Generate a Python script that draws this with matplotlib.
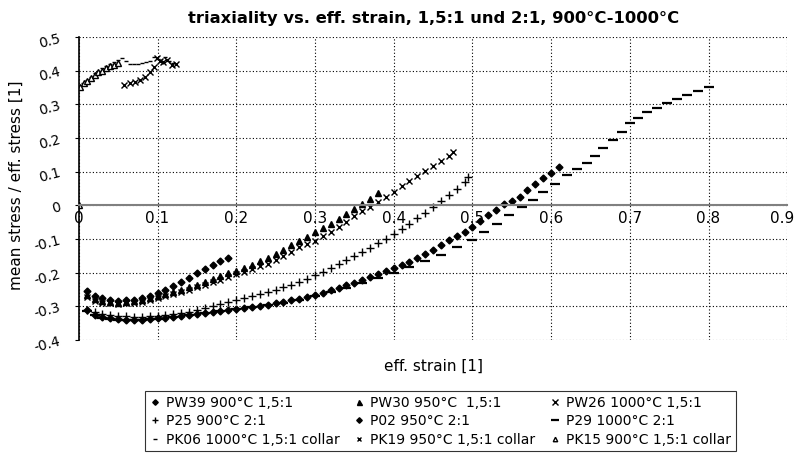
import matplotlib.pyplot as plt
import numpy as np

plt.rcParams['font.family'] = ['DejaVu Sans']
plt.rcParams['axes.unicode_minus'] = False

# --- Daten ---
pw39_x = [0.01, 0.02, 0.03, 0.04, 0.05, 0.06, 0.07, 0.08, 0.09, 0.10, 0.11, 0.12, 0.13, 0.14, 0.15, 0.16, 0.17, 0.18, 0.19]
pw39_y = [-0.255, -0.268, -0.276, -0.281, -0.283, -0.282, -0.280, -0.275, -0.268, -0.260, -0.250, -0.240, -0.228, -0.215, -0.202, -0.190, -0.178, -0.166, -0.155]

pw30_x = [0.01, 0.02, 0.03, 0.04, 0.05, 0.06, 0.07, 0.08, 0.09, 0.10, 0.11, 0.12, 0.13, 0.14, 0.15, 0.16, 0.17, 0.18, 0.19,
          0.20, 0.21, 0.22, 0.23, 0.24, 0.25, 0.26, 0.27, 0.28, 0.29, 0.30, 0.31, 0.32, 0.33, 0.34, 0.35, 0.36, 0.37, 0.38]
pw30_y = [-0.265, -0.278, -0.285, -0.288, -0.289, -0.288, -0.285, -0.281, -0.276, -0.270, -0.263, -0.257, -0.250, -0.243, -0.236, -0.228, -0.220, -0.211, -0.202,
          -0.195, -0.185, -0.176, -0.166, -0.155, -0.144, -0.132, -0.119, -0.106, -0.093, -0.080, -0.067, -0.055, -0.042, -0.027, -0.011, 0.004, 0.020, 0.036]

pw26_x = [0.01, 0.02, 0.03, 0.04, 0.05, 0.06, 0.07, 0.08, 0.09, 0.10, 0.11, 0.12, 0.13, 0.14, 0.15, 0.16, 0.17, 0.18, 0.19, 0.20, 0.21, 0.22, 0.23,
          0.24, 0.25, 0.26, 0.27, 0.28, 0.29, 0.30, 0.31, 0.32, 0.33, 0.34, 0.35, 0.36, 0.37, 0.38, 0.39, 0.40, 0.41, 0.42, 0.43, 0.44, 0.45, 0.46, 0.47, 0.475]
pw26_y = [-0.272, -0.283, -0.289, -0.291, -0.292, -0.291, -0.289, -0.286, -0.281, -0.275, -0.269, -0.263, -0.257, -0.250, -0.243, -0.236, -0.229, -0.221, -0.213, -0.205, -0.197, -0.189, -0.181,
          -0.173, -0.162, -0.150, -0.138, -0.125, -0.115, -0.105, -0.092, -0.078, -0.063, -0.048, -0.033, -0.018, -0.004, 0.011, 0.026, 0.041, 0.057, 0.072, 0.088, 0.103, 0.118, 0.133, 0.148, 0.158]

p25_x = [0.01, 0.02, 0.03, 0.04, 0.05, 0.06, 0.07, 0.08, 0.09, 0.10, 0.11, 0.12, 0.13, 0.14, 0.15, 0.16, 0.17, 0.18, 0.19, 0.20, 0.21, 0.22, 0.23, 0.24, 0.25,
         0.26, 0.27, 0.28, 0.29, 0.30, 0.31, 0.32, 0.33, 0.34, 0.35, 0.36, 0.37, 0.38, 0.39, 0.40, 0.41, 0.42, 0.43, 0.44, 0.45, 0.46, 0.47, 0.48, 0.49, 0.495]
p25_y = [-0.310, -0.318, -0.323, -0.326, -0.328, -0.330, -0.331, -0.331, -0.330, -0.329, -0.327, -0.324, -0.321, -0.317, -0.312, -0.306, -0.300, -0.294, -0.287, -0.280, -0.274, -0.268, -0.262, -0.256, -0.250,
         -0.244, -0.236, -0.228, -0.218, -0.208, -0.197, -0.186, -0.174, -0.162, -0.150, -0.138, -0.126, -0.113, -0.100, -0.086, -0.070, -0.054, -0.038, -0.022, -0.005, 0.013, 0.031, 0.050, 0.070, 0.085]

p02_x = [0.01, 0.02, 0.03, 0.04, 0.05, 0.06, 0.07, 0.08, 0.09, 0.10, 0.11, 0.12, 0.13, 0.14, 0.15, 0.16, 0.17, 0.18, 0.19, 0.20, 0.21, 0.22, 0.23, 0.24, 0.25, 0.26, 0.27, 0.28, 0.29, 0.30, 0.31,
         0.32, 0.33, 0.34, 0.35, 0.36, 0.37, 0.38, 0.39, 0.40, 0.41, 0.42, 0.43, 0.44, 0.45, 0.46, 0.47, 0.48, 0.49, 0.50, 0.51, 0.52, 0.53, 0.54, 0.55, 0.56, 0.57, 0.58, 0.59, 0.60, 0.61]
p02_y = [-0.312, -0.325, -0.332, -0.336, -0.338, -0.340, -0.340, -0.340, -0.338, -0.336, -0.334, -0.332, -0.329, -0.326, -0.323, -0.320, -0.317, -0.314, -0.311, -0.308, -0.305, -0.302, -0.299, -0.295, -0.291, -0.287, -0.282, -0.277, -0.271, -0.265, -0.259,
         -0.252, -0.245, -0.238, -0.230, -0.222, -0.214, -0.205, -0.196, -0.187, -0.177, -0.167, -0.156, -0.144, -0.132, -0.118, -0.104, -0.090, -0.078, -0.065, -0.047, -0.030, -0.013, 0.003, 0.014, 0.026, 0.045, 0.063, 0.080, 0.097, 0.113]

p29_x = [0.01, 0.02, 0.03, 0.04, 0.05, 0.06, 0.07, 0.08, 0.09, 0.10, 0.12, 0.14, 0.16, 0.18, 0.20, 0.22, 0.24, 0.26, 0.28, 0.30, 0.32, 0.34, 0.36, 0.38, 0.40, 0.42, 0.44, 0.46, 0.48, 0.50,
         0.515, 0.531, 0.547, 0.563, 0.577, 0.59, 0.605, 0.62, 0.633, 0.646, 0.656, 0.666, 0.679, 0.69, 0.70, 0.711, 0.722, 0.735, 0.747, 0.76, 0.773, 0.787, 0.80]
p29_y = [-0.315, -0.327, -0.334, -0.338, -0.340, -0.341, -0.341, -0.340, -0.339, -0.337, -0.333, -0.327, -0.321, -0.315, -0.309, -0.303, -0.297, -0.290, -0.281, -0.270, -0.258, -0.246, -0.232, -0.217, -0.200, -0.182, -0.165, -0.147, -0.125, -0.104,
         -0.080, -0.054, -0.030, -0.006, 0.017, 0.039, 0.064, 0.089, 0.107, 0.125, 0.148, 0.170, 0.193, 0.218, 0.244, 0.260, 0.277, 0.290, 0.303, 0.315, 0.327, 0.339, 0.351]

pk06_x = [0.0, 0.0, 0.005, 0.01, 0.015, 0.02, 0.025, 0.03, 0.035, 0.04, 0.045, 0.05, 0.055, 0.06, 0.065, 0.07, 0.075, 0.08, 0.085, 0.09, 0.095, 0.10, 0.105, 0.11, 0.115, 0.12]
pk06_y = [0.0, 0.350, 0.362, 0.372, 0.382, 0.392, 0.400, 0.408, 0.414, 0.420, 0.426, 0.432, 0.438, 0.430, 0.421, 0.420, 0.421, 0.423, 0.425, 0.428, 0.442, 0.435, 0.430, 0.440, 0.430, 0.424]

pk19_x = [0.058, 0.065, 0.072, 0.078, 0.084, 0.09, 0.095, 0.099, 0.103, 0.107, 0.112, 0.118, 0.124]
pk19_y = [0.357, 0.362, 0.367, 0.372, 0.382, 0.396, 0.410, 0.437, 0.430, 0.426, 0.432, 0.418, 0.420]

pk15_x = [0.0, 0.002, 0.006, 0.01, 0.015, 0.02, 0.025, 0.03, 0.035, 0.04, 0.045, 0.05]
pk15_y = [0.0, 0.352, 0.362, 0.370, 0.378, 0.388, 0.395, 0.400, 0.408, 0.413, 0.418, 0.422]

fig = plt.figure(figsize=(7.96, 4.57), dpi=100)
ax = fig.add_axes([0.099, 0.256, 0.89, 0.663])

h = {}
h['pw39'], = ax.plot(pw39_x, pw39_y, 'D', color='black', ms=3.5, ls='none', label='PW39 900°C 1,5:1')
h['pw30'], = ax.plot(pw30_x, pw30_y, '^', color='black', ms=4.5, ls='none', label='PW30 950°C  1,5:1')
h['pw26'], = ax.plot(pw26_x, pw26_y, 'x', color='black', ms=5, mew=1, ls='none', label='PW26 1000°C 1,5:1')
h['p25'], = ax.plot(p25_x, p25_y, '+', color='black', ms=6, mew=1, ls='none', label='P25 900°C 2:1')
h['p02'], = ax.plot(p02_x, p02_y, 'D', color='black', ms=3.5, ls='none', label='P02 950°C 2:1')
h['p29'], = ax.plot(p29_x, p29_y, '_', color='black', ms=7, mew=1.6, ls='none', label='P29 1000°C 2:1')
h['pk06'], = ax.plot(pk06_x, pk06_y, '_', color='black', ms=3, mew=1, lw=1.0, label='PK06 1000°C 1,5:1 collar')
h['pk19'], = ax.plot(pk19_x, pk19_y, 'x', color='black', ms=4, mew=1, ls='none', label='PK19 950°C 1,5:1 collar')
h['pk15'], = ax.plot(pk15_x, pk15_y, '^', color='black', mfc='white', ms=4, ls='none', label='PK15 900°C 1,5:1 collar')

ax.set_xlim(0, 0.9)
ax.set_ylim(-0.4, 0.5)
xt = np.round(np.arange(0, 0.91, 0.1), 1)
yt = np.round(np.arange(-0.4, 0.51, 0.1), 1)
ax.set_xticks(xt)
# 0.9 am rechten Rand wird separat gesetzt (sonst abgeschnitten)
ax.set_xticklabels(['0' if v == 0 else ('' if v == 0.9 else f'{v:g}') for v in xt])
ax.annotate(f'{xt[-1]:g}', xy=(xt[-1], 0), xycoords='data', xytext=(5, -4),
            textcoords='offset points', ha='right', va='top', fontsize=11)
ax.set_yticks(yt)
ax.set_yticklabels(['0' if v == 0 else f'{v:g}' for v in yt], rotation=15)
ax.tick_params(axis='x', length=0, pad=4, labelsize=11)
ax.tick_params(axis='y', length=3, pad=9, labelsize=10)

ax.grid(True, color='black', linestyle=(0, (1, 2)), linewidth=0.8)
ax.spines['top'].set_visible(False)
ax.spines['right'].set_visible(False)
ax.spines['bottom'].set_position(('data', 0))
ax.spines['bottom'].set_color('#808080')
ax.spines['bottom'].set_linewidth(1.5)
ax.spines['left'].set_linewidth(1.2)

fig.text(0.545, 0.96, 'triaxiality vs. eff. strain, 1,5:1 und 2:1, 900°C-1000°C',
         ha='center', va='center', fontsize=11.8, fontweight='bold')
fig.text(0.545, 0.199, 'eff. strain [1]', ha='center', va='center', fontsize=11)
fig.text(0.021, 0.595, 'mean stress / eff. stress [1]', ha='center', va='center', rotation=90, fontsize=11)

order = ['pw39', 'p25', 'pk06', 'pw30', 'p02', 'pk19', 'pw26', 'p29', 'pk15']
leg = fig.legend([h[k] for k in order], [h[k].get_label() for k in order], ncol=3,
                 loc='center', bbox_to_anchor=(0.553, 0.078), fontsize=10, frameon=True,
                 fancybox=False, edgecolor='black', handlelength=0.8, handletextpad=0.4,
                 columnspacing=1.0, labelspacing=0.3, borderpad=0.35, markerscale=0.8)
leg.get_frame().set_linewidth(0.8)

fig.savefig('out.png', dpi=100)
